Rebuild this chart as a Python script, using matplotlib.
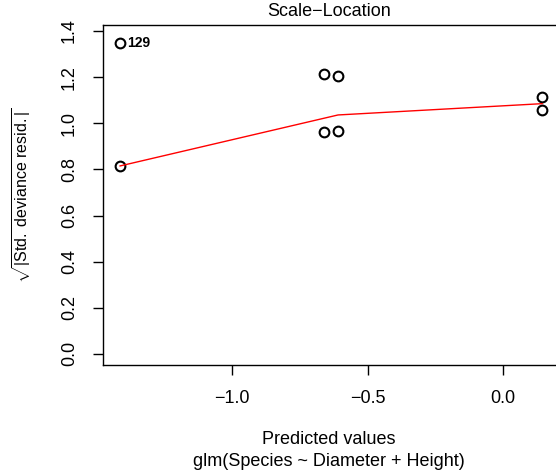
import matplotlib
matplotlib.use("Agg")
import matplotlib.pyplot as plt

plt.rcParams['font.family'] = ['Liberation Sans', 'DejaVu Sans']
plt.rcParams['mathtext.fontset'] = 'custom'
plt.rcParams['mathtext.rm'] = 'Liberation Sans'
plt.rcParams['mathtext.it'] = 'Liberation Sans:italic'

# fitted values and sqrt(|std. deviance residuals|)
predicted = [-1.413, -1.413, -0.660, -0.609, -0.660, -0.609, 0.144, 0.144]
sqrt_resid = [1.348, 0.815, 1.213, 1.205, 0.960, 0.968, 1.112, 1.058]

# smoother through the points
smooth_x = [-1.413, -0.660, -0.609, 0.144]
smooth_y = [0.815, 1.022, 1.036, 1.085]

# labelled extreme point
label_x = -1.413
label_y = 1.348
label_text = "129"

xticks = [-1.0, -0.5, 0.0]
yticks = [0.0, 0.2, 0.4, 0.6, 0.8, 1.0, 1.2, 1.4]

fig = plt.figure(figsize=(5.56, 4.70), dpi=100)
ax = fig.add_axes([103 / 556, 105 / 470, 456 / 556, 340 / 470])

ax.plot(predicted, sqrt_resid, 'o', mfc='none', mec='black', ms=7, mew=1.5)
ax.plot(smooth_x, smooth_y, color='red', lw=1)
ax.annotate(label_text, (label_x, label_y), xytext=(5, 0), textcoords='offset points',
            va='center', ha='left', fontsize=10, fontweight='bold')

ax.set_xlim(-1.476, 0.206)
ax.set_ylim(-0.048, 1.426)
ax.set_xticks(xticks)
ax.set_xticklabels(['\u22121.0', '\u22120.5', '0.0'])
ax.set_yticks(yticks)
ax.set_yticklabels(['%.1f' % v for v in yticks], rotation=90, va='center')
ax.tick_params(direction='out', length=7, width=1, labelsize=13, pad=11)

for s in ax.spines.values():
    s.set_linewidth(1)

fig.text(22 / 556, 1 - 195 / 470, r'$\sqrt{|\mathrm{Std.\ deviance\ resid.}|}$',
         rotation=90, ha='center', va='center', fontsize=11.5)

fig.text(329 / 556, 1 - 12 / 470, 'Scale\u2212Location', ha='center', va='center', fontsize=13)
fig.text(329 / 556, 1 - 440 / 470, 'Predicted values', ha='center', va='center', fontsize=13)
fig.text(329 / 556, 1 - 461 / 470, 'glm(Species ~ Diameter + Height)', ha='center', va='center', fontsize=13)

fig.savefig('out.png', dpi=100)
